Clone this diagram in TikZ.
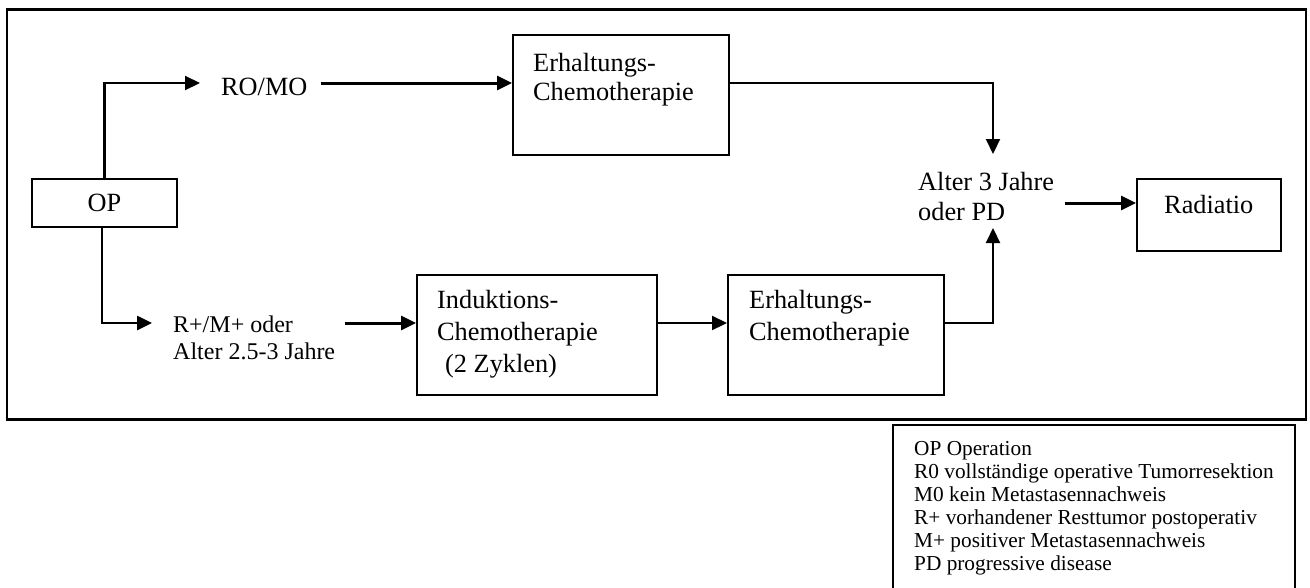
\documentclass[tikz,border=0pt]{standalone}
\usepackage{fontspec}
\setmainfont{Liberation Serif}
\usetikzlibrary{arrows.meta,calc}
\begin{document}
\begin{tikzpicture}[x=1pt,y=-1pt,
  box/.style={draw, line width=2pt, inner sep=0pt},
  lbl/.style={inner sep=0pt, font=\fontsize{26.3}{30}\selectfont, anchor=base west},
  small/.style={inner sep=0pt, font=\fontsize{24}{27}\selectfont, anchor=base west},
  leg/.style={inner sep=0pt, font=\fontsize{21.3}{23}\selectfont, anchor=base west},
  arr/.style={line width=2.2pt, -{Triangle[length=15pt,width=14pt]}},
  tarr/.style={line width=3pt, -{Triangle[length=15pt,width=14pt]}},
]
\useasboundingbox (0,0) rectangle (1310,587);
% frame
\node[box, line width=2.2pt, minimum width=1299pt, minimum height=410pt] (frame) at (656.5,214.5) {};
% OP
\node[box, minimum width=145pt, minimum height=48pt, font=\fontsize{26.3}{30}\selectfont] (op) at (104.5,203) {OP};
% RO/MO
\node[lbl] (romo) at (221,95) {RO/MO};
\coordinate (romoIn) at (200,83);
\coordinate (romoOut) at (321,83);
% top Erhaltungs
\node[box, minimum width=216pt, minimum height=120pt] (e1) at (621,95) {};
\node[lbl] (e1a) at (533,71) {Erhaltungs-};
\node[lbl] (e1b) at (533,100) {Chemotherapie};
% Alter 3 Jahre
\node[lbl] (alt1) at (918,190) {Alter 3 Jahre};
\node[lbl] (alt2) at (918,220) {oder PD};
\coordinate (altTop) at (993,154);
\coordinate (altBot) at (993,228);
\coordinate (altOut) at (1065,203);
% Radiatio
\node[box, minimum width=144pt, minimum height=72pt] (rad) at (1209,215) {};
\node[lbl] (radt) at (1164,213) {Radiatio};
% R+/M+
\node[small] (rm1) at (173,332) {R+/M+ oder};
\node[small] (rm2) at (173,359) {Alter 2.5-3 Jahre};
\coordinate (rmIn) at (152,323);
\coordinate (rmOut) at (345,323);
% Induktion
\node[box, minimum width=240pt, minimum height=120pt] (ind) at (537,335) {};
\node[lbl] (inda) at (437,308) {Induktions-};
\node[lbl] (indb) at (437,340) {Chemotherapie};
\node[lbl] (indc) at (445,372) {(2 Zyklen)};
% lower Erhaltungs
\node[box, minimum width=216pt, minimum height=120pt] (e2) at (836,335) {};
\node[lbl] (e2a) at (749,308) {Erhaltungs-};
\node[lbl] (e2b) at (749,340) {Chemotherapie};
% connectors
\draw[arr] (op.north) |- (romoIn);
\draw[tarr] (romoOut) -- (romoOut -| e1.west);
\draw[arr] (e1.east |- romoOut) -| (altTop);
\draw[tarr] (altOut) -- (altOut -| rad.west);
\draw[line width=2.6pt, -{Triangle[length=15pt,width=14pt]}] ($(op.south)+(-2.5,0)$) |- (rmIn);
\draw[tarr] (rmOut) -- (rmOut -| ind.west);
\draw[arr] (ind.east |- rmOut) -- (e2.west |- rmOut);
\draw[arr] (e2.east |- rmOut) -| (altBot);
% legend
\node[box, line width=1.8pt, minimum width=402pt, minimum height=180pt] (legend) at (1094,515) {};
\node[leg] (l1) at (914,455) {OP Operation};
\node[leg] (l2) at (914,478) {R0 vollständige operative Tumorresektion};
\node[leg] (l3) at (914,501) {M0 kein Metastasennachweis};
\node[leg] (l4) at (914,524) {R+ vorhandener Resttumor postoperativ};
\node[leg] (l5) at (914,547) {M+ positiver Metastasennachweis};
\node[leg] (l6) at (914,570) {PD progressive disease};
\end{tikzpicture}
\end{document}
